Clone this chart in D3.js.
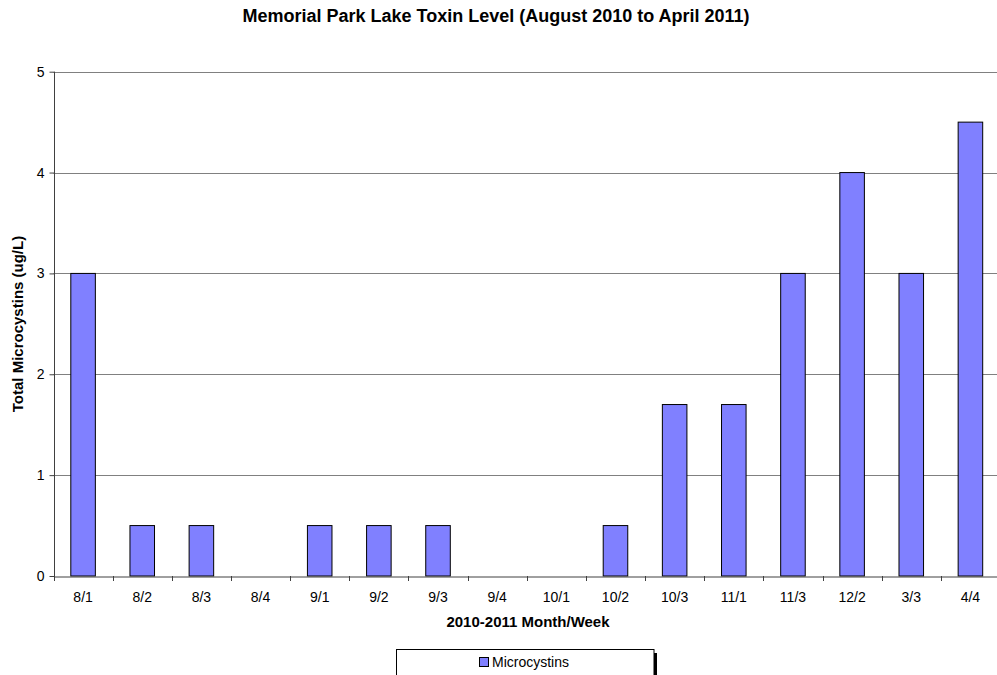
<!DOCTYPE html>
<html><head><meta charset="utf-8">
<script src="https://cdn.jsdelivr.net/npm/d3@7"></script>
<style>body{margin:0;background:#fff;} svg{display:block;font-family:Arial,"Liberation Sans",sans-serif;}</style>
</head><body>
<svg id="chart" width="997" height="675"></svg>
<script>
const categories = ["8/1","8/2","8/3","8/4","9/1","9/2","9/3","9/4","10/1","10/2","10/3","11/1","11/3","12/2","3/3","4/4"];
const microcystins = [3,0.5,0.5,0,0.5,0.5,0.5,0,0,0.5,1.7,1.7,3,4,3,4.5];
const yTicks = [0,1,2,3,4,5];
const title = "Memorial Park Lake Toxin Level (August 2010 to April 2011)";
const xTitle = "2010-2011 Month/Week";
const yTitle = "Total Microcystins (ug/L)";
const seriesName = "Microcystins";

(function(){
const FONT = "Arial, 'Liberation Sans', sans-serif";
const svg = d3.select("#chart");
const pL = 53.5, pR = 1000, pT = 71.7, pB = 576;
const x = d3.scaleBand().domain(categories).range([pL, pR]).paddingInner(0).paddingOuter(0);
const y = d3.scaleLinear().domain([0,5]).range([pB, pT]);

// gridlines
svg.append("g").selectAll("line").data(yTicks.filter(d=>d>0)).join("line")
  .attr("x1", pL).attr("x2", pR)
  .attr("y1", d=>Math.round(y(d))+0.5).attr("y2", d=>Math.round(y(d))+0.5)
  .attr("stroke","#808080").attr("stroke-width",1);

// bars
const bw = x.bandwidth()*0.415;
svg.append("g").selectAll("rect").data(categories.map((c,i)=>({c,v:microcystins[i]})).filter(d=>d.v>0)).join("rect")
  .attr("x", d=>x(d.c)+x.bandwidth()/2-bw/2)
  .attr("y", d=>y(d.v))
  .attr("width", bw)
  .attr("height", d=>y(0)-y(d.v))
  .attr("fill","#8080FF").attr("stroke","#000").attr("stroke-width",1);

// y axis
const yAxis = d3.axisLeft(y).tickValues(yTicks).tickSize(5).tickPadding(5).tickFormat(d3.format("d"));
const gy = svg.append("g").attr("transform",`translate(${Math.round(pL)+0.5},0)`).call(yAxis);
gy.select(".domain").attr("stroke","#404040").attr("d",`M0,${pT}V${pB}`);
gy.selectAll(".tick line").attr("stroke","#404040");
gy.selectAll(".tick text").attr("font-size","14px").attr("fill","#000").attr("font-family",FONT);

// x axis
const xAxis = d3.axisBottom(x).tickSize(0).tickPadding(16);
const gx = svg.append("g").attr("transform",`translate(0,${Math.round(pB)+0.5})`).call(xAxis);
gx.select(".domain").attr("stroke","#404040");
gx.selectAll(".tick text").attr("font-size","14px").attr("fill","#000").attr("font-family",FONT);
// boundary ticks
svg.append("g").selectAll("line").data(categories).join("line")
  .attr("x1", d=>Math.round(x(d))+0.5).attr("x2", d=>Math.round(x(d))+0.5)
  .attr("y1", pB).attr("y2", pB+5)
  .attr("stroke","#404040");

// titles
svg.append("text").attr("x",496).attr("y",22).attr("text-anchor","middle")
  .attr("font-size","18px").attr("font-weight","bold").text(title);
svg.append("text").attr("x",528).attr("y",627).attr("text-anchor","middle")
  .attr("font-size","15px").attr("font-weight","bold").text(xTitle);
svg.append("text").attr("transform",`translate(23,324) rotate(-90)`).attr("text-anchor","middle")
  .attr("font-size","15px").attr("font-weight","bold").text(yTitle);

// legend
const lg = svg.append("g");
lg.append("rect").attr("x",654).attr("y",653).attr("width",3).attr("height",30).attr("fill","#000");
lg.append("rect").attr("x",396.5).attr("y",649.5).attr("width",257.5).attr("height",40).attr("fill","#fff").attr("stroke","#000").attr("stroke-width",1);
lg.append("rect").attr("x",479.5).attr("y",657.5).attr("width",9).attr("height",9).attr("fill","#8080FF").attr("stroke","#000").attr("stroke-width",1);
lg.append("text").attr("x",492).attr("y",667).attr("font-size","14px").text(seriesName);
})();
</script>
</body></html>
